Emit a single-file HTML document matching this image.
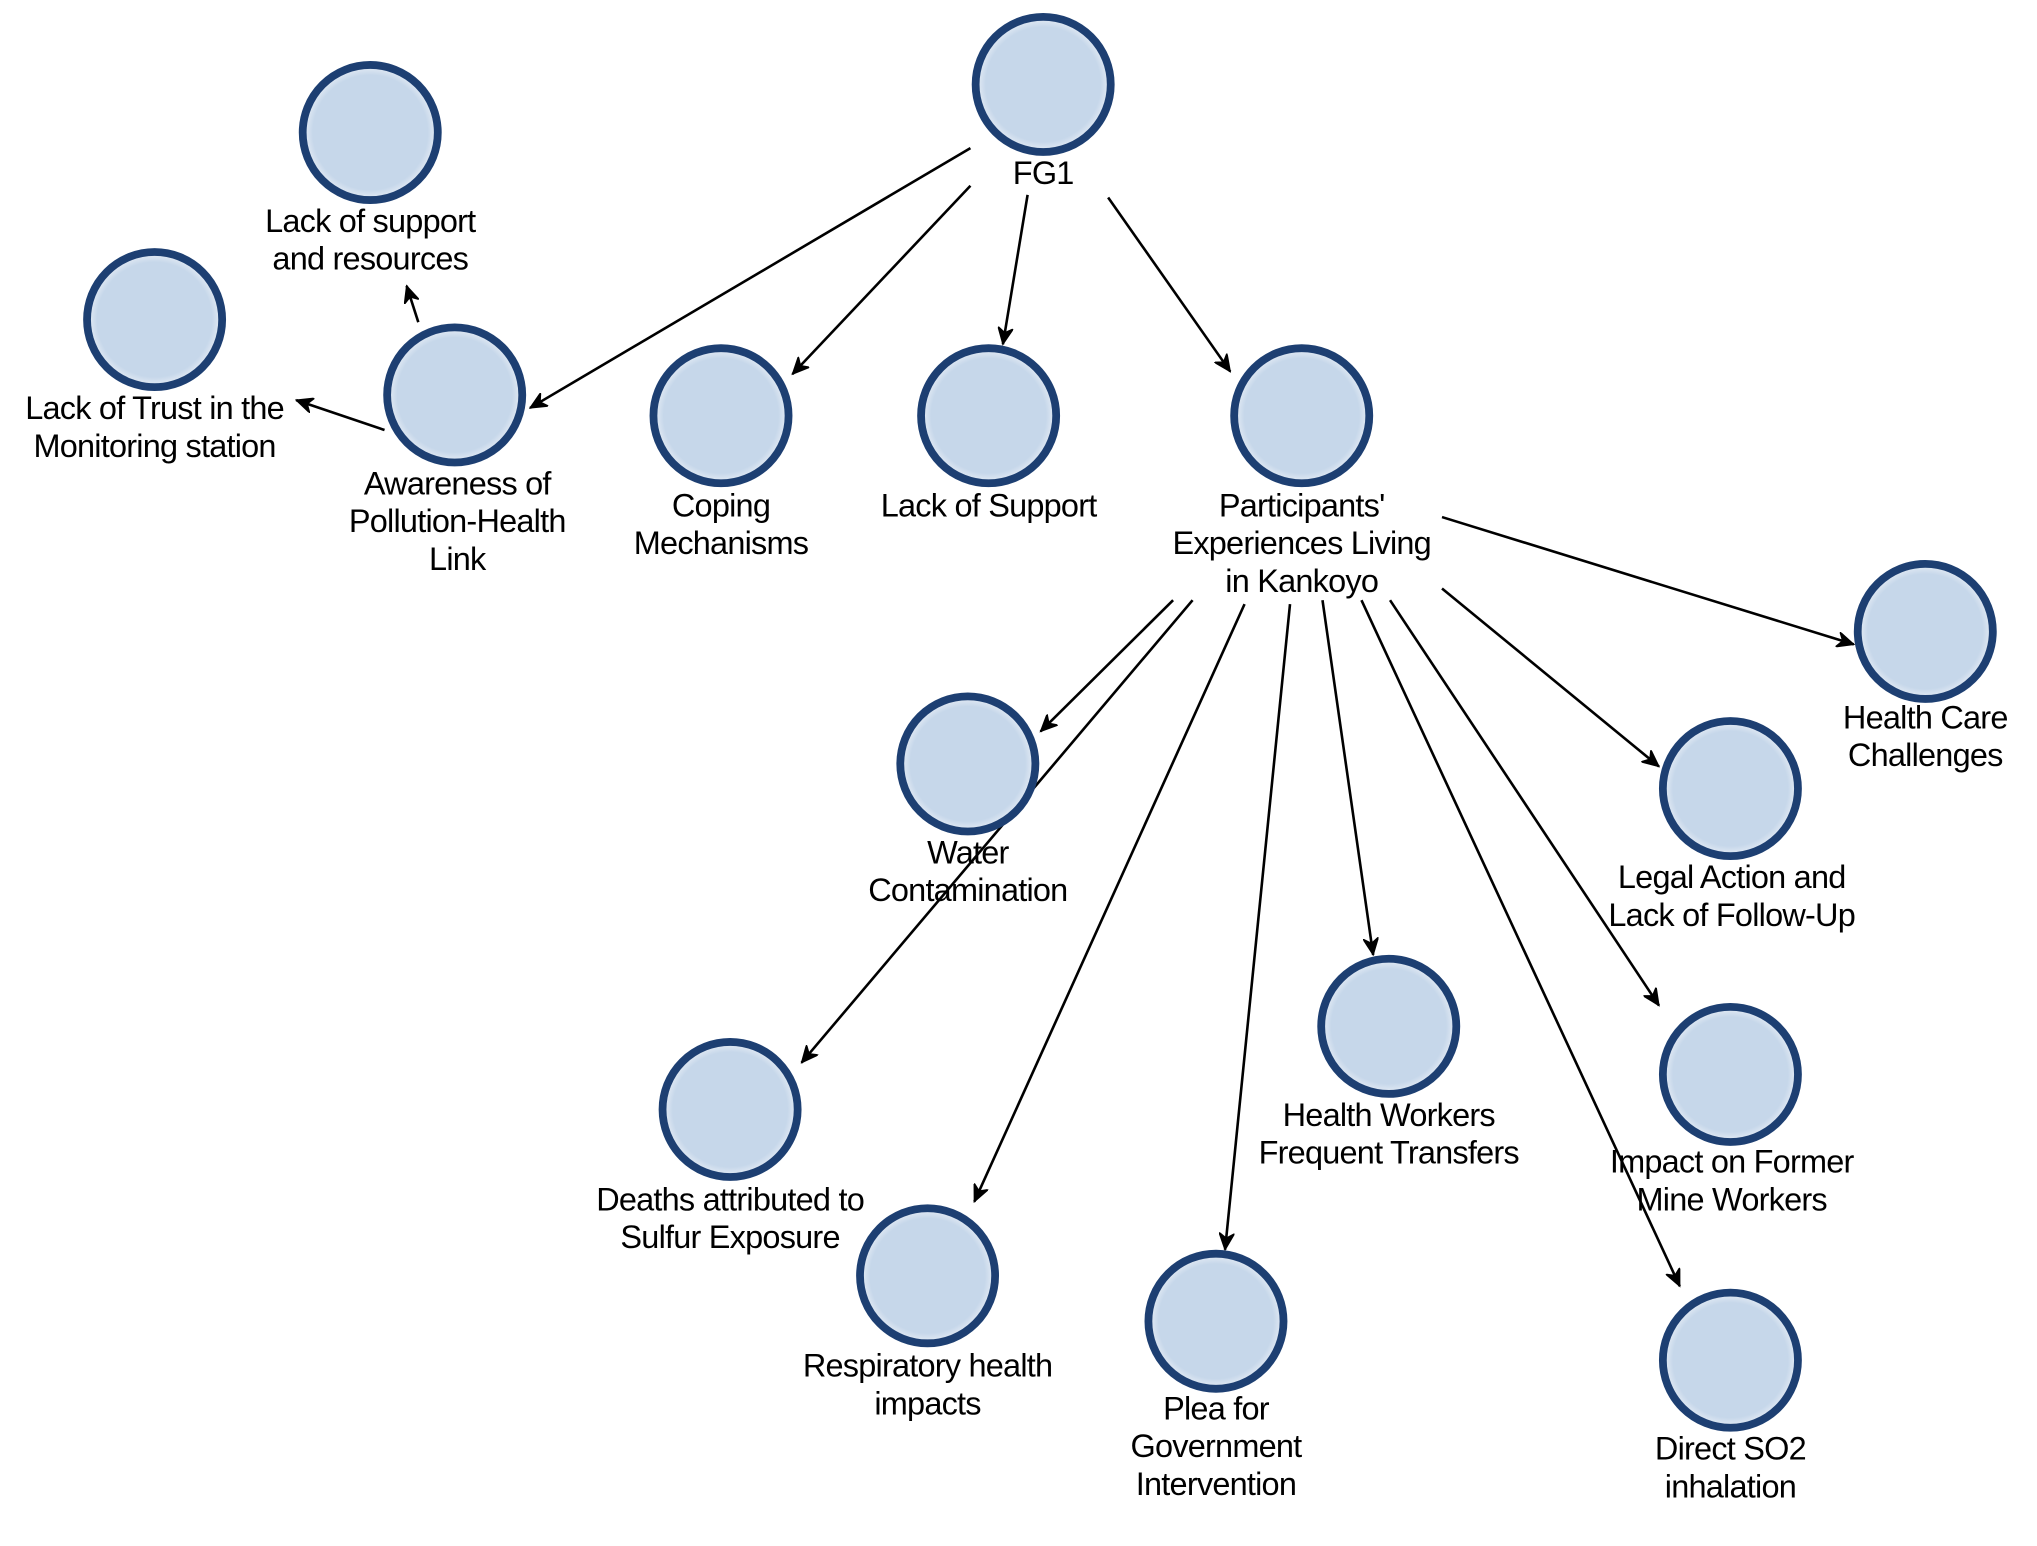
<!DOCTYPE html>
<html><head><meta charset="utf-8"><style>
html,body{margin:0;padding:0;background:#fff;}
svg{display:block;}
text{font-family:"Liberation Sans",sans-serif;font-size:25px;fill:#000;text-anchor:middle;dominant-baseline:middle;letter-spacing:-0.6px;}
</style></head><body>
<svg width="2037" height="1546" viewBox="0 0 1568 1190" preserveAspectRatio="none" xmlns="http://www.w3.org/2000/svg">
<defs>
<marker id="a" markerWidth="14" markerHeight="12" refX="13" refY="6" orient="auto" markerUnits="userSpaceOnUse">
<path d="M0,0 L13,6 L0,12 L4,6 Z" fill="#000" stroke="#000" stroke-width="1"/>
</marker>
<radialGradient id="g" cx="50%" cy="50%" r="50%">
<stop offset="85%" stop-color="#c6d7ea"/><stop offset="100%" stop-color="#e8eef6"/>
</radialGradient>
</defs>
<g stroke="#000" stroke-width="2" fill="none" marker-end="url(#a)">
<line x1="747" y1="114" x2="408" y2="314"/>
<line x1="747" y1="143" x2="610" y2="288"/>
<line x1="791" y1="150" x2="772" y2="265"/>
<line x1="853" y1="152" x2="947" y2="286"/>
<line x1="322" y1="248" x2="313" y2="220"/>
<line x1="296" y1="331" x2="228" y2="308"/>
<line x1="1110" y1="398" x2="1427" y2="496"/>
<line x1="1110" y1="453" x2="1277" y2="590"/>
<line x1="903" y1="462" x2="801" y2="563"/>
<line x1="918" y1="462" x2="617" y2="818"/>
<line x1="958" y1="465" x2="750" y2="925"/>
<line x1="993" y1="465" x2="943" y2="962"/>
<line x1="1018" y1="462" x2="1057" y2="735"/>
<line x1="1048" y1="462" x2="1293" y2="990"/>
<line x1="1070" y1="462" x2="1277" y2="774"/>
</g>
<g fill="url(#g)" stroke="#1d3f72" stroke-width="6">
<circle cx="803" cy="65" r="52"/>
<circle cx="285" cy="102" r="52"/>
<circle cx="119" cy="246" r="52"/>
<circle cx="350" cy="304" r="52"/>
<circle cx="555" cy="320" r="52"/>
<circle cx="761" cy="320" r="52"/>
<circle cx="1002" cy="320" r="52"/>
<circle cx="1482" cy="486" r="52"/>
<circle cx="745" cy="588" r="52"/>
<circle cx="1332" cy="607" r="52"/>
<circle cx="1069" cy="790" r="52"/>
<circle cx="1332" cy="827" r="52"/>
<circle cx="562" cy="854" r="52"/>
<circle cx="714" cy="982" r="52"/>
<circle cx="936" cy="1017" r="52"/>
<circle cx="1332" cy="1047" r="52"/>
</g>
<text x="803" y="135">FG1</text>
<text x="285" y="172">Lack of support</text><text x="285" y="201">and resources</text>
<text x="119" y="316">Lack of Trust in the</text><text x="119" y="345">Monitoring station</text>
<text x="352" y="374">Awareness of</text><text x="352" y="403">Pollution-Health</text><text x="352" y="432">Link</text>
<text x="555" y="391">Coping</text><text x="555" y="420">Mechanisms</text>
<text x="761" y="391">Lack of Support</text>
<text x="1002" y="391">Participants'</text><text x="1002" y="420">Experiences Living</text><text x="1002" y="449">in Kankoyo</text>
<text x="1482" y="554">Health Care</text><text x="1482" y="583">Challenges</text>
<text x="745" y="658">Water</text><text x="745" y="687">Contamination</text>
<text x="1333" y="677">Legal Action and</text><text x="1333" y="706">Lack of Follow-Up</text>
<text x="1069" y="860">Health Workers</text><text x="1069" y="889">Frequent Transfers</text>
<text x="1333" y="896">Impact on Former</text><text x="1333" y="925">Mine Workers</text>
<text x="562" y="925">Deaths attributed to</text><text x="562" y="954">Sulfur Exposure</text>
<text x="714" y="1053">Respiratory health</text><text x="714" y="1082">impacts</text>
<text x="936" y="1086">Plea for</text><text x="936" y="1115">Government</text><text x="936" y="1144">Intervention</text>
<text x="1332" y="1117">Direct SO2</text><text x="1332" y="1146">inhalation</text>
</svg>
</body></html>
